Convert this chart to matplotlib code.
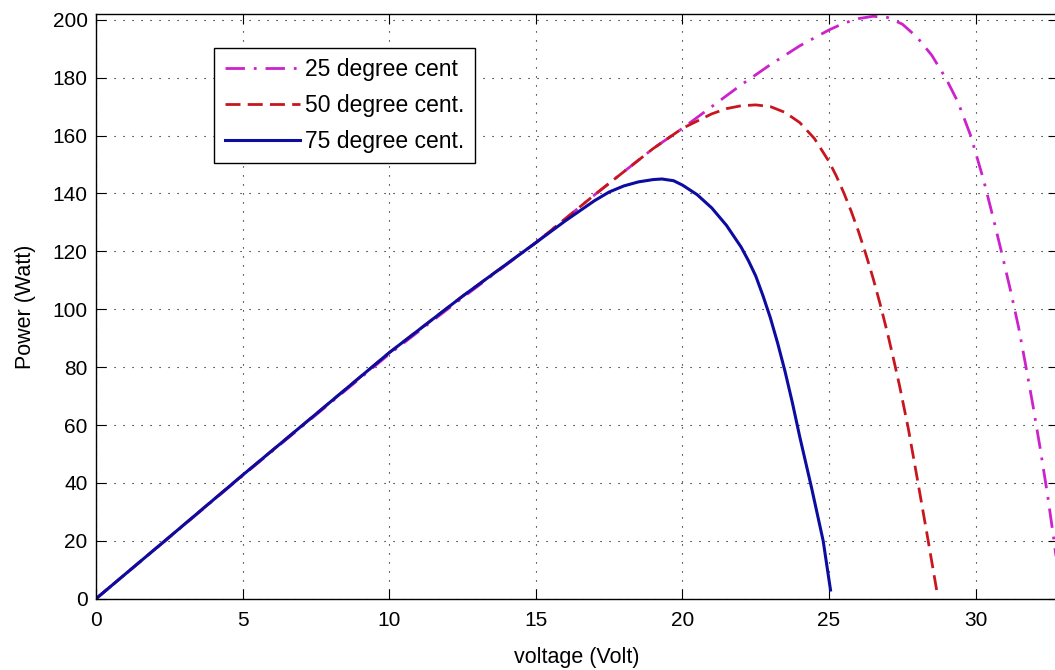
import matplotlib
matplotlib.use("Agg")
import matplotlib.pyplot as plt

plt.rcParams['font.family'] = ['Liberation Sans', 'DejaVu Sans']

# PV module output power vs. terminal voltage at three cell temperatures
v_25 = [0, 2.5, 5, 7.5, 10, 12.5, 15, 16, 17, 18, 19, 20, 21, 22, 23, 24, 25,
        25.5, 26, 26.5, 27, 27.5, 28, 28.5, 29, 29.4, 29.83, 30.27, 30.6, 30.9,
        31.2, 31.47, 31.7, 31.95, 32.2, 32.45, 32.66, 32.8]
p_25 = [0, 21.2, 42.5, 63.5, 84.5, 104, 123, 131.2, 139.5, 147.5, 155.5, 162.5,
        170, 177.5, 184.5, 191, 196.5, 198.8, 200.4, 201.2, 200.8, 198.5, 194,
        187.8, 179.5, 171.5, 160, 144.7, 131.5, 119, 106, 93.5, 81, 67, 52, 36,
        21, 10]

v_50 = [0, 2.5, 5, 7.5, 10, 12.5, 15, 16, 17, 18, 19, 20, 21, 21.5, 22, 22.5,
        23, 23.5, 24, 24.5, 25, 25.25, 25.5, 25.75, 26, 26.25, 26.5, 26.75, 27,
        27.2, 27.4, 27.7, 28, 28.33, 28.67]
p_50 = [0, 21.3, 42.7, 63.8, 85, 104.5, 123, 131.2, 139.5, 147.5, 155.5, 162.5,
        167.5, 169.3, 170.3, 170.6, 170, 168, 164.5, 159, 151, 146, 140.3, 134,
        127, 119.2, 110.8, 101.5, 91.5, 82.8, 73.8, 59, 42, 23, 3]

v_75 = [0, 2.5, 5, 7.5, 10, 12.5, 15, 16, 17, 17.5, 18, 18.5, 19, 19.3, 19.7,
        20, 20.5, 21, 21.5, 22, 22.25, 22.5, 22.75, 23, 23.25, 23.5, 23.75, 24,
        24.4, 24.8, 25.05]
p_75 = [0, 21.3, 42.7, 63.8, 85, 104.5, 123, 130.5, 137.5, 140.5, 142.6, 144,
        144.8, 145, 144.4, 142.9, 139.6, 135, 129, 121.5, 116.8, 111.5, 104.6,
        97, 88.2, 78.5, 67.7, 56, 38.5, 20, 3]

labels = ['25 degree cent', '50 degree cent.', '75 degree cent.']
x_ticks = [0, 5, 10, 15, 20, 25, 30]
y_ticks = [0, 20, 40, 60, 80, 100, 120, 140, 160, 180, 200]

fig = plt.figure(figsize=(10.55, 6.7), dpi=100)
ax = fig.add_axes([0.0910, 0.1064, 0.9116, 0.8727])

ax.plot(v_25, p_25, color='#cc22cc', lw=2.0, dashes=(7, 3.2, 1, 3.2),
        label=labels[0])
ax.plot(v_50, p_50, color='#c8161e', lw=2.0, dashes=(5.4, 2.6),
        label=labels[1])
ax.plot(v_75, p_75, color='#0c0ca0', lw=2.2, label=labels[2])

ax.set_xlim(0, 32.8)
ax.set_ylim(0, 202)
ax.set_xticks(x_ticks)
ax.set_yticks(y_ticks)
ax.grid(True, color='black', linestyle=(0, (1, 7.1)), linewidth=0.8)
ax.tick_params(direction='in', length=7, width=0.8, top=True, right=True,
               labelsize=15)
ax.tick_params(axis='x', pad=9)
ax.tick_params(axis='y', pad=6)
for s in ax.spines.values():
    s.set_linewidth(1.0)

ax.set_xlabel('voltage (Volt)', fontsize=15.5, labelpad=12)
ax.set_ylabel('Power (Watt)', fontsize=15.5, labelpad=12)

leg = ax.legend(loc='upper left', bbox_to_anchor=(0.1229, 0.9418),
                borderaxespad=0, fontsize=16.5, handlelength=3.3,
                handletextpad=0.22, labelspacing=0.55, borderpad=0.45,
                fancybox=False, framealpha=1, edgecolor='black')
leg.get_frame().set_linewidth(1.0)

fig.savefig('out.png', dpi=100, facecolor='white')
